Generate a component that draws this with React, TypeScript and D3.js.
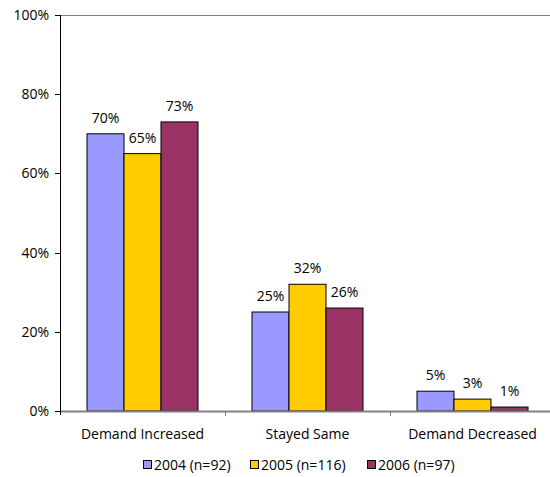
import React from "react";
import * as d3 from "d3";

const categories = ["Demand Increased", "Stayed Same", "Demand Decreased"];
const seriesNames = ["2004 (n=92)", "2005 (n=116)", "2006 (n=97)"];
const values2004 = [70, 25, 5];
const values2005 = [65, 32, 3];
const values2006 = [73, 26, 1];
const colors = ["#9999FF", "#FFCC00", "#993366"];
const yTicks = [0, 20, 40, 60, 80, 100];

const W = 550, H = 477;
const left = 60, top = 15, bottom = 411, right = 555;
const font = "'Open Sans', 'Noto Sans', sans-serif";
const fs = 14;

export default function App() {
  const series = [values2004, values2005, values2006];
  const y = d3.scaleLinear().domain([0, 100]).range([bottom, top]);
  const x0 = d3.scaleBand().domain(categories).range([left, right]).paddingInner(0).paddingOuter(0);
  const bw = 37;
  const groupW = bw * 3;
  const legendX = [143, 250, 367];
  return (
    <svg width={W} height={H} style={{ position: "absolute", left: 0, top: 0, background: "#fff" }} fontFamily={font}>
      <line x1={left} x2={W} y1={top + 0.5} y2={top + 0.5} stroke="#808080" />
      {yTicks.map((t) => (
        <g key={t}>
          <line x1={left - 5} x2={left} y1={Math.round(y(t)) + 0.5} y2={Math.round(y(t)) + 0.5} stroke="#000" />
          <text x={49} y={y(t)} dy="0.35em" textAnchor="end" fontSize={fs} fill="#000">{t}%</text>
        </g>
      ))}
      {categories.map((c, i) => {
        const gx = (x0(c) as number) + (x0.bandwidth() - groupW) / 2;
        return (
          <g key={c}>
            {series.map((s, j) => (
              <g key={j}>
                <rect x={gx + j * bw} y={y(s[i])} width={bw} height={bottom - y(s[i])} fill={colors[j]} stroke="#000" strokeWidth={1} />
                <text x={gx + j * bw + bw / 2} y={y(s[i]) - 16} dy="0.35em" textAnchor="middle" fontSize={fs} fill="#000">{s[i]}%</text>
              </g>
            ))}
            <text x={(x0(c) as number) + x0.bandwidth() / 2} y={434} dy="0.35em" textAnchor="middle" fontSize={fs} fill="#000">{c}</text>
          </g>
        );
      })}
      <line x1={left} x2={W} y1={bottom + 0.5} y2={bottom + 0.5} stroke="#808080" strokeWidth={2} />
      {[1, 2].map((k) => (
        <line key={k} x1={left + k * x0.bandwidth() + 0.5} x2={left + k * x0.bandwidth() + 0.5} y1={bottom} y2={bottom + 5} stroke="#808080" />
      ))}
      <line x1={left + 0.5} x2={left + 0.5} y1={top} y2={bottom + 4} stroke="#000" />
      {seriesNames.map((n, j) => (
        <g key={n}>
          <rect x={legendX[j] + 0.5} y={460.5} width={8} height={8} fill={colors[j]} stroke="#000" />
          <text x={legendX[j] + 11} y={465} dy="0.35em" fontSize={fs} fill="#000">{n}</text>
        </g>
      ))}
    </svg>
  );
}
